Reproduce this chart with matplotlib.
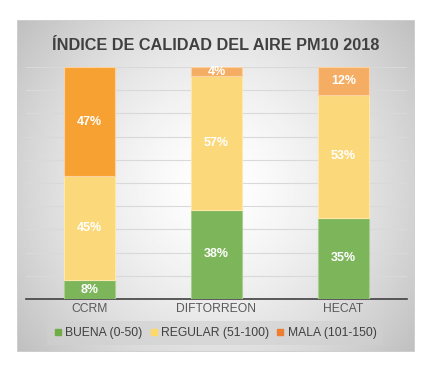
import numpy as np
import matplotlib.pyplot as plt
from matplotlib.patches import Rectangle
from matplotlib.lines import Line2D

plt.rcParams['font.family'] = ['Liberation Sans', 'DejaVu Sans']

# datos
estaciones = ['CCRM', 'DIFTORREON', 'HECAT']
buena = [8, 38, 35]
regular = [45, 57, 53]
mala = [47, 4, 12]
series = ['BUENA (0-50)', 'REGULAR (51-100)', 'MALA (101-150)']

W, H = 431, 372
fig = plt.figure(figsize=(W / 100, H / 100), dpi=100)

# fondo del area del grafico con degradado radial
bg = fig.add_axes([17 / W, 1 - 352 / H, (415 - 17) / W, (352 - 20) / H], zorder=0)
yy, xx = np.mgrid[-1:1:200j, -1:1:240j]
r = np.sqrt(xx ** 2 + (yy * 0.8) ** 2) / np.sqrt(1.64)
grad = 1 - 0.25 * np.clip(r, 0, 1) ** 1.5
bg.imshow(grad, cmap='gray', vmin=0, vmax=1, aspect='auto', extent=[0, 1, 0, 1])
bg.add_patch(Rectangle((0, 0), 1, 1, fill=False, ec='#d0d0d0', lw=1.2, transform=bg.transAxes))
bg.axis('off')

ax = fig.add_axes([26 / W, 1 - 299 / H, 381 / W, 232 / H], zorder=1)
ax.set_facecolor('none')

tot = np.array(buena) + np.array(regular) + np.array(mala)
pb = np.array(buena) / tot * 100
pr = np.array(regular) / tot * 100
pm = np.array(mala) / tot * 100

x = np.arange(len(estaciones))
w = 0.394
c_verde = '#7db55b'
c_amar = '#fbd87a'
c_mala = ['#f7a133', '#f5ad64', '#f5ad64']

b1 = ax.bar(x, pb, w, color=c_verde, edgecolor='#a8d08d', lw=0.8, zorder=3)
b2 = ax.bar(x, pr, w, bottom=pb, color=c_amar, edgecolor='#fde9a9', lw=0.8, zorder=3)
b3 = ax.bar(x, pm, w, bottom=pb + pr, color=c_mala, edgecolor='#fbd2a0', lw=0.8, zorder=3)

for bars, vals, bots in [(b1, buena, np.zeros(3)), (b2, regular, pb), (b3, mala, pb + pr)]:
    for rect, v, b in zip(bars, vals, bots):
        h = rect.get_height()
        ax.text(rect.get_x() + rect.get_width() / 2, b + h / 2, f'{v}%', ha='center', va='center',
                color='white', fontsize=9, fontweight='bold', zorder=4)

ax.set_xlim(-0.5, 2.5)
ax.set_ylim(0, 100)
ax.set_yticks(np.arange(0, 101, 10))
ax.yaxis.grid(True, color='#d9d9d9', lw=0.8, zorder=0)
ax.tick_params(axis='y', left=False, labelleft=False)
ax.tick_params(axis='x', length=0, pad=3, labelsize=8.7, labelcolor='#595959')
ax.set_xticks(x)
ax.set_xticklabels(estaciones)
for s in ['top', 'right', 'left']:
    ax.spines[s].set_visible(False)
ax.spines['bottom'].set_color('#404040')
ax.spines['bottom'].set_linewidth(1.2)

fig.text(216 / W, 1 - 46 / H, 'ÍNDICE DE CALIDAD DEL AIRE PM10 2018', ha='center', va='center',
         fontsize=11.7, fontweight='bold', color='#404040')

handles = [Line2D([], [], marker='s', ls='', ms=5, color=c) for c in ['#70ad47', '#ffd966', '#ed7d31']]
leg = fig.legend(handles, series, loc='center', bbox_to_anchor=(215 / W, 1 - 333 / H), ncol=3,
                 fontsize=8.7, frameon=True, handlelength=0.7, handletextpad=0.25, columnspacing=0.6,
                 borderpad=0.5)
leg.get_frame().set_facecolor('#d0d0d0')
leg.get_frame().set_edgecolor('none')
leg.get_frame().set_alpha(0.6)
leg.get_frame().set_boxstyle('square', pad=0)
for t in leg.get_texts():
    t.set_color('#404040')

fig.savefig('out.png', dpi=100)
